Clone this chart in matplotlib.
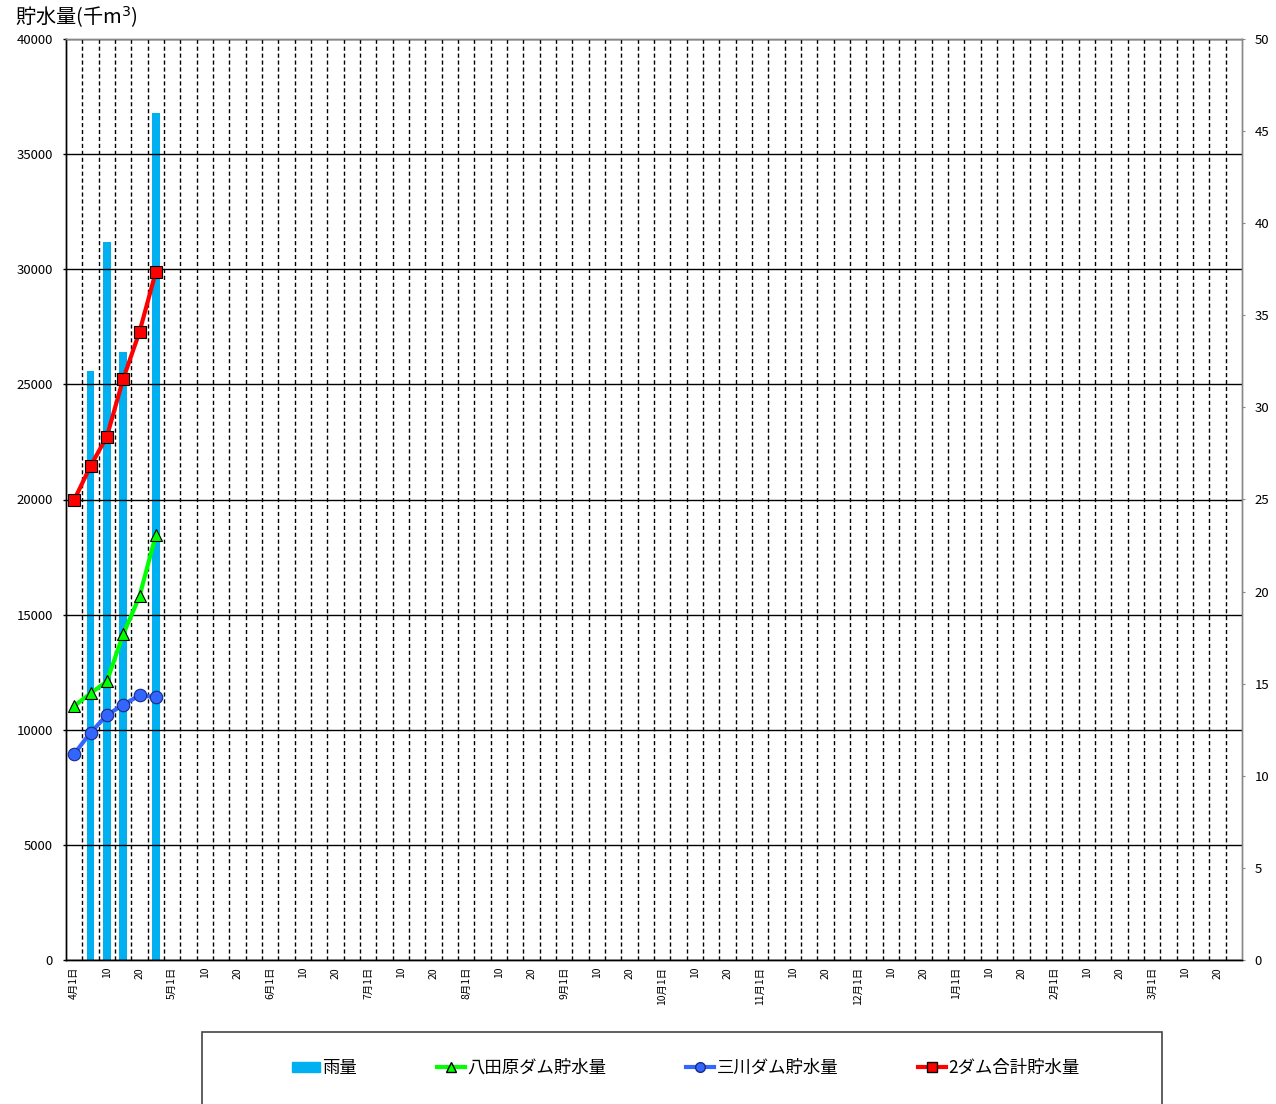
import matplotlib
matplotlib.use("Agg")
import matplotlib.pyplot as plt
from matplotlib.patches import Rectangle
from matplotlib.lines import Line2D
import numpy as np

plt.rcParams['font.family'] = ['Noto Sans CJK JP', 'DejaVu Sans']

# categories: 6 slots per month (1, 5, 10, 15, 20, 25), April -> March
months = [4, 5, 6, 7, 8, 9, 10, 11, 12, 1, 2, 3]
slot_labels = ['1日', '', '10', '', '20', '']

# data (first 6 slots of April)
rain = [0, 32, 39, 33, 0, 46]                                # 雨量 (right axis)
hattabara = [11030, 11580, 12100, 14140, 15790, 18470]       # 八田原ダム貯水量
mikawa = [8950, 9870, 10630, 11090, 11490, 11420]            # 三川ダム貯水量
total = [19980, 21450, 22730, 25230, 27280, 29890]           # 2ダム合計貯水量

labels = []
for m in months:
    for s in slot_labels:
        labels.append(f"{m}月{s}" if s == '1日' else s)
n = len(labels)
x = np.arange(n)
xd = np.arange(len(total))

fig = plt.figure(figsize=(12.76, 11.04), dpi=100)
ax = fig.add_axes([66 / 1276, 1 - 960 / 1104, 1176 / 1276, 921 / 1104])
ax2 = ax.twinx()
ax.set_zorder(ax2.get_zorder() + 1)
ax.patch.set_visible(False)

# bars on right axis
ax2.bar(xd, rain, width=0.45, color='#00B0F0', zorder=2)
ax2.set_ylim(0, 50)
ax2.set_yticks(np.arange(0, 51, 5))

# lines on left axis
ax.plot(xd, hattabara, '-^', color='#00FF00', lw=3, ms=9, mfc='#00FF00', mec='black', mew=0.8, zorder=5)
ax.plot(xd, mikawa, '-o', color='#3366FF', lw=3, ms=9, mfc='#3366FF', mec='#1a2a80', mew=0.8, zorder=5)
ax.plot(xd, total, '-s', color='#FF0000', lw=3, ms=9, mfc='#FF0000', mec='black', mew=0.8, zorder=6)

ax.set_ylim(0, 40000)
ax.set_yticks(np.arange(0, 40001, 5000))
ax.set_xlim(-0.5, n - 0.5)
ax.set_xticks(x)
ax.set_xticklabels(labels, rotation=90, fontsize=7.5)
ax.set_xticks(np.arange(0.5, n - 1, 1), minor=True)
ax.tick_params(axis='x', which='both', length=0, pad=5)
ax.tick_params(axis='y', length=2.5, width=1, labelsize=9.5, pad=7)
ax2.tick_params(axis='y', length=2, color='#888888', labelsize=9.5, pad=7)

ax.grid(axis='y', which='major', color='black', lw=1, zorder=0)
ax.grid(axis='x', which='minor', color='black', lw=1, linestyle=(0, (3, 2)), zorder=0)
for a in (ax, ax2):
    for name, sp in a.spines.items():
        sp.set_color('#888888' if name in ('right', 'top') else 'black')
        sp.set_linewidth(1)

fig.text(15 / 1276, 1 - 17 / 1104, '貯水量(千m$^3$)', fontsize=14.5, va='center', ha='left')

# legend box
fig.patches.append(Rectangle((202 / 1276, -0.01), 960 / 1276, 1 - 1032 / 1104 + 0.01,
                             transform=fig.transFigure, fill=False, edgecolor='#444444', lw=1.2))
handles = [
    Rectangle((0, 0), 1, 1, color='#00B0F0'),
    Line2D([], [], color='#00FF00', lw=3, marker='^', ms=7, mfc='#00FF00', mec='black'),
    Line2D([], [], color='#3366FF', lw=3, marker='o', ms=7, mfc='#3366FF', mec='#1a2a80'),
    Line2D([], [], color='#FF0000', lw=3, marker='s', ms=7, mfc='#FF0000', mec='black'),
]
names = ['雨量', '八田原ダム貯水量', '三川ダム貯水量', '2ダム合計貯水量']
fig.legend(handles, names, loc='center', bbox_to_anchor=(686 / 1276, 1 - 1068 / 1104), ncol=4,
           frameon=False, fontsize=12.5, columnspacing=4.6, handlelength=1.6, handleheight=0.5,
           handletextpad=0.15)

fig.savefig('out.png', dpi=100)
